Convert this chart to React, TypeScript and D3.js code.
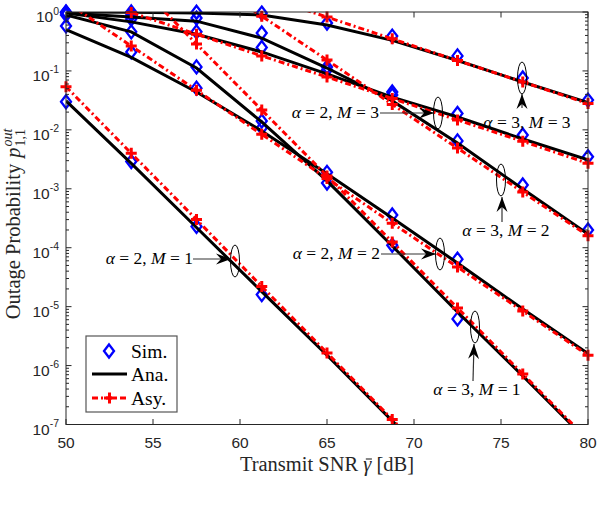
import React, { useEffect, useRef } from "react";
import * as d3 from "d3";

// transmit SNR points (dB)
const snr = [50, 53.75, 57.5, 61.25, 65, 68.75, 72.5, 76.25, 80];

// alpha = 3, M = 3
const simA3M3 = [1.0, 1.0, 0.99, 0.96, 0.65, 0.39, 0.18, 0.076, 0.032];
const anaA3M3 = [1.0, 0.99, 0.96, 0.89, 0.6, 0.33, 0.15, 0.065, 0.029];
const asyA3M3 = [24, 10.5, 4.5, 1.9, 0.82, 0.35, 0.15, 0.065, 0.028];

// alpha = 2, M = 3
const simA2M3 = [0.98, 0.76, 0.46, 0.25, 0.117, 0.044, 0.019, 0.0082, 0.0035];
const anaA2M3 = [0.96, 0.68, 0.42, 0.21, 0.089, 0.036, 0.0165, 0.007, 0.0031];
const asyA2M3 = [2.26, 0.98, 0.42, 0.18, 0.079, 0.034, 0.0147, 0.0064, 0.0027];

// alpha = 3, M = 2
const simA3M2 = [0.98, 0.89, 0.79, 0.44, 0.104, 0.039, 0.0065, 0.00116, 0.0002];
const anaA3M2 = [0.96, 0.82, 0.7, 0.36, 0.112, 0.031, 0.006, 0.00099, 0.00017];
const asyA3M2 = [148, 26.5, 4.75, 0.85, 0.153, 0.027, 0.0049, 0.00088, 0.00016];

// alpha = 2, M = 2
const simA2M2 = [0.58, 0.21, 0.051, 0.0108, 0.0019, 0.00036, 0.000064, null, null];
const anaA2M2 = [0.5, 0.17, 0.044, 0.0096, 0.0018, 0.00032, 0.000055, 9.1e-6, 1.6e-6];
const asyA2M2 = [1.49, 0.265, 0.047, 0.0084, 0.0015, 0.00026, 0.000047, 8.4e-6, 1.5e-6];

// alpha = 3, M = 1
const simA3M1 = [0.89, 0.46, 0.117, 0.0141, 0.00125, 0.00011, 6.2e-6, null, null];
const anaA3M1 = [0.89, 0.46, 0.112, 0.0136, 0.00136, 0.000107, 8.1e-6, 6.7e-7, 5.2e-8];
const asyA3M1 = [50, 3.8, 0.287, 0.0217, 0.00165, 0.000125, 9.5e-6, 7.2e-7, 5.5e-8];

// alpha = 2, M = 1
const simA2M1 = [0.03, 0.0029, 0.00023, 0.000016, null, null, null, null, null];
const anaA2M1 = [0.031, 0.0027, 0.00022, 0.000018, 1.5e-6, 1.15e-7, 8.7e-9, 6.5e-10, 4.8e-11];
const asyA2M1 = [0.054, 0.004, 0.0003, 0.000022, 1.64e-6, 1.22e-7, 9.1e-9, 6.8e-10, 5e-11];

const xTicks = [50, 55, 60, 65, 70, 75, 80];
const yExponents = [0, -1, -2, -3, -4, -5, -6, -7];

const curves = [
  { sim: simA3M3, ana: anaA3M3, asy: asyA3M3 },
  { sim: simA2M3, ana: anaA2M3, asy: asyA2M3 },
  { sim: simA3M2, ana: anaA3M2, asy: asyA3M2 },
  { sim: simA2M2, ana: anaA2M2, asy: asyA2M2 },
  { sim: simA3M1, ana: anaA3M1, asy: asyA3M1 },
  { sim: simA2M1, ana: anaA2M1, asy: asyA2M1 },
];

const legendLabels = ["Sim.", "Ana.", "Asy."];

const SERIF = "'Liberation Serif', 'DejaVu Serif', serif";
const SANS = "'Liberation Sans', Arial, sans-serif";
const DIAMOND = "M0,-6.5L5,0L0,6.5L-5,0Z";
const PLUS = "M-5.5,0H5.5M0,-5.5V5.5";
const DASH = "6 3 2 3";

export default function App() {
  const ref = useRef<SVGSVGElement>(null);

  useEffect(() => {
    const W = 598,
      H = 510;
    const left = 66,
      right = 588,
      top = 12,
      bottom = 424.5;
    const svg = d3.select(ref.current).attr("width", W).attr("height", H);
    svg.selectAll("*").remove();
    svg.append("rect").attr("width", W).attr("height", H).attr("fill", "#fff");

    const x = d3.scaleLinear().domain([50, 80]).range([left, right]);
    const y = d3.scaleLog().domain([1e-7, 1]).range([bottom, top]);

    const defs = svg.append("defs");
    defs
      .append("clipPath")
      .attr("id", "plotclip")
      .append("rect")
      .attr("x", left)
      .attr("y", top)
      .attr("width", right - left)
      .attr("height", bottom - top);
    defs
      .append("marker")
      .attr("id", "head")
      .attr("markerUnits", "userSpaceOnUse")
      .attr("viewBox", "-16 -6 17 12")
      .attr("refX", 0)
      .attr("refY", 0)
      .attr("markerWidth", 17)
      .attr("markerHeight", 12)
      .attr("orient", "auto")
      .append("path")
      .attr("d", "M0,0L-15,-5.5L-10,0L-15,5.5Z")
      .attr("fill", "#000");

    const inRange = (v: number | null) => v != null && v >= 0.99e-7 && v <= 1.001;

    // sim markers
    const simG = svg.append("g");
    curves.forEach((c) => {
      c.sim.forEach((v, i) => {
        if (!inRange(v)) return;
        simG
          .append("path")
          .attr("d", DIAMOND)
          .attr("transform", `translate(${x(snr[i])},${y(v as number)})`)
          .attr("fill", "none")
          .attr("stroke", "#0000ff")
          .attr("stroke-width", 2.3);
      });
    });

    const line = d3
      .line<number>()
      .x((d, i) => x(snr[i]))
      .y((d) => y(d));

    const plot = svg.append("g").attr("clip-path", "url(#plotclip)");
    curves.forEach((c) => {
      plot
        .append("path")
        .datum(c.ana)
        .attr("d", line)
        .attr("fill", "none")
        .attr("stroke", "#000")
        .attr("stroke-width", 3);
    });
    curves.forEach((c) => {
      plot
        .append("path")
        .datum(c.asy)
        .attr("d", line)
        .attr("fill", "none")
        .attr("stroke", "#ff0000")
        .attr("stroke-width", 3)
        .attr("stroke-dasharray", DASH);
    });
    const plusG = svg.append("g");
    curves.forEach((c) => {
      c.asy.forEach((v, i) => {
        if (!inRange(v)) return;
        plusG
          .append("path")
          .attr("d", PLUS)
          .attr("transform", `translate(${x(snr[i])},${y(v)})`)
          .attr("stroke", "#ff0000")
          .attr("stroke-width", 3);
      });
    });

    // axes box and ticks
    const axisColor = "#262626";
    const ax = svg.append("g").attr("stroke", axisColor).attr("stroke-width", 1);
    ax.append("rect")
      .attr("x", left)
      .attr("y", top)
      .attr("width", right - left)
      .attr("height", bottom - top)
      .attr("fill", "none");
    xTicks.forEach((t) => {
      ax.append("line").attr("x1", x(t)).attr("x2", x(t)).attr("y1", bottom).attr("y2", bottom - 5.5);
      ax.append("line").attr("x1", x(t)).attr("x2", x(t)).attr("y1", top).attr("y2", top + 5.5);
    });
    yExponents.forEach((e) => {
      const yy = y(Math.pow(10, e));
      ax.append("line").attr("x1", left).attr("x2", left + 5.5).attr("y1", yy).attr("y2", yy);
      ax.append("line").attr("x1", right).attr("x2", right - 5.5).attr("y1", yy).attr("y2", yy);
      if (e > -7) {
        for (let k = 2; k <= 9; k++) {
          const ym = y(k * Math.pow(10, e - 1));
          ax.append("line").attr("x1", left).attr("x2", left + 3).attr("y1", ym).attr("y2", ym);
          ax.append("line").attr("x1", right).attr("x2", right - 3).attr("y1", ym).attr("y2", ym);
        }
      }
    });

    // tick labels
    const tl = svg.append("g").attr("font-family", SANS).attr("fill", axisColor);
    xTicks.forEach((t) => {
      tl.append("text")
        .attr("x", x(t))
        .attr("y", 448)
        .attr("text-anchor", "middle")
        .attr("font-size", 15.5)
        .text(t);
    });
    yExponents.forEach((e) => {
      const yy = y(Math.pow(10, e));
      const t = tl
        .append("text")
        .attr("x", 59)
        .attr("y", yy + 10)
        .attr("text-anchor", "end")
        .attr("font-size", 15.5);
      t.append("tspan").text("10");
      t.append("tspan").attr("dy", -7.5).attr("font-size", 10.5).text(e === 0 ? "0" : `-${-e}`);
    });

    // x label, macron over gamma drawn as a short stroke
    const xl = svg
      .append("text")
      .attr("x", (left + right) / 2)
      .attr("y", 471)
      .attr("text-anchor", "middle")
      .attr("font-family", SERIF)
      .attr("font-size", 20.5)
      .attr("fill", "#262626");
    xl.append("tspan").text("Transmit SNR ");
    xl.append("tspan").attr("font-style", "italic").text("\u03b3");
    xl.append("tspan").text(" [dB]");
    const g = (xl.node() as SVGTextElement).getExtentOfChar(13);
    svg
      .append("line")
      .attr("x1", g.x + 2.5)
      .attr("x2", g.x + g.width + 0.5)
      .attr("y1", 459)
      .attr("y2", 459)
      .attr("stroke", "#262626")
      .attr("stroke-width", 1.1);

    // y label
    const yl = svg.append("g").attr("font-family", SERIF).attr("fill", "#262626");
    const t1 = yl.append("text").attr("font-size", 20.5).text("Outage Probability");
    const w1 = (t1.node() as SVGTextElement).getComputedTextLength();
    const tp = yl
      .append("text")
      .attr("x", w1 + 6)
      .attr("font-size", 20.5)
      .attr("font-style", "italic")
      .text("p");
    const w2 = (tp.node() as SVGTextElement).getComputedTextLength();
    const sx = w1 + 6 + w2 + 1;
    const tsup = yl
      .append("text")
      .attr("x", sx)
      .attr("y", -8)
      .attr("font-size", 14)
      .attr("font-style", "italic")
      .text("out");
    const tsub = yl.append("text").attr("x", sx).attr("y", 5).attr("font-size", 14).text("1,1");
    const total =
      sx +
      Math.max(
        (tsup.node() as SVGTextElement).getComputedTextLength(),
        (tsub.node() as SVGTextElement).getComputedTextLength()
      );
    yl.attr("transform", `translate(20,${224 + total / 2}) rotate(-90)`);

    // annotations
    const notes = [
      { a: 2, m: 3, tx: 379, ty: 118, anchor: "end", ex: 438, ey: 113, arrow: [380, 113, 434, 113] },
      { a: 3, m: 3, tx: 527, ty: 128, anchor: "middle", ex: 522, ey: 78, arrow: [522, 108, 522, 94] },
      { a: 3, m: 2, tx: 506, ty: 236, anchor: "middle", ex: 501, ey: 180, arrow: [502, 222, 502, 197] },
      { a: 2, m: 2, tx: 380, ty: 259, anchor: "end", ex: 440, ey: 254, arrow: [381, 254, 436, 254] },
      { a: 2, m: 1, tx: 193, ty: 264, anchor: "end", ex: 235, ey: 261, arrow: [193, 259, 231, 259] },
      { a: 3, m: 1, tx: 477, ty: 395, anchor: "middle", ex: 475, ey: 327, arrow: [473, 381, 474, 344] },
    ];
    const ng = svg.append("g");
    notes.forEach((n) => {
      ng.append("ellipse")
        .attr("cx", n.ex)
        .attr("cy", n.ey)
        .attr("rx", 4.5)
        .attr("ry", 16)
        .attr("fill", "none")
        .attr("stroke", "#000")
        .attr("stroke-width", 1);
      ng.append("line")
        .attr("x1", n.arrow[0])
        .attr("y1", n.arrow[1])
        .attr("x2", n.arrow[2])
        .attr("y2", n.arrow[3])
        .attr("stroke", "#333")
        .attr("stroke-width", 1.2)
        .attr("marker-end", "url(#head)");
      const t = ng
        .append("text")
        .attr("x", n.tx)
        .attr("y", n.ty)
        .attr("text-anchor", n.anchor)
        .attr("font-family", SERIF)
        .attr("font-size", 17.5)
        .attr("fill", "#000");
      t.append("tspan").attr("font-style", "italic").text("\u03b1");
      t.append("tspan").text(` = ${n.a}, `);
      t.append("tspan").attr("font-style", "italic").text("M");
      t.append("tspan").text(` = ${n.m}`);
    });

    // legend
    const lg = svg.append("g");
    lg.append("rect")
      .attr("x", 86)
      .attr("y", 336)
      .attr("width", 91)
      .attr("height", 76)
      .attr("fill", "#fff")
      .attr("stroke", "#555")
      .attr("stroke-width", 1.2);
    const rows = [351, 374, 398];
    lg.append("path")
      .attr("d", DIAMOND)
      .attr("transform", `translate(109,${rows[0]})`)
      .attr("fill", "none")
      .attr("stroke", "#0000ff")
      .attr("stroke-width", 2.3);
    lg.append("line").attr("x1", 92).attr("x2", 127).attr("y1", rows[1]).attr("y2", rows[1])
      .attr("stroke", "#000").attr("stroke-width", 3);
    lg.append("line").attr("x1", 92).attr("x2", 127).attr("y1", rows[2]).attr("y2", rows[2])
      .attr("stroke", "#ff0000").attr("stroke-width", 3).attr("stroke-dasharray", DASH);
    lg.append("path")
      .attr("d", PLUS)
      .attr("transform", `translate(109.5,${rows[2]})`)
      .attr("stroke", "#ff0000")
      .attr("stroke-width", 3);
    legendLabels.forEach((l, i) => {
      lg.append("text")
        .attr("x", 131)
        .attr("y", rows[i] + 6.5)
        .attr("font-family", SERIF)
        .attr("font-size", 19.5)
        .attr("fill", "#000")
        .text(l);
    });
  }, []);

  return (
    <div style={{ position: "absolute", left: 0, top: 0 }}>
      <svg ref={ref}></svg>
    </div>
  );
}
